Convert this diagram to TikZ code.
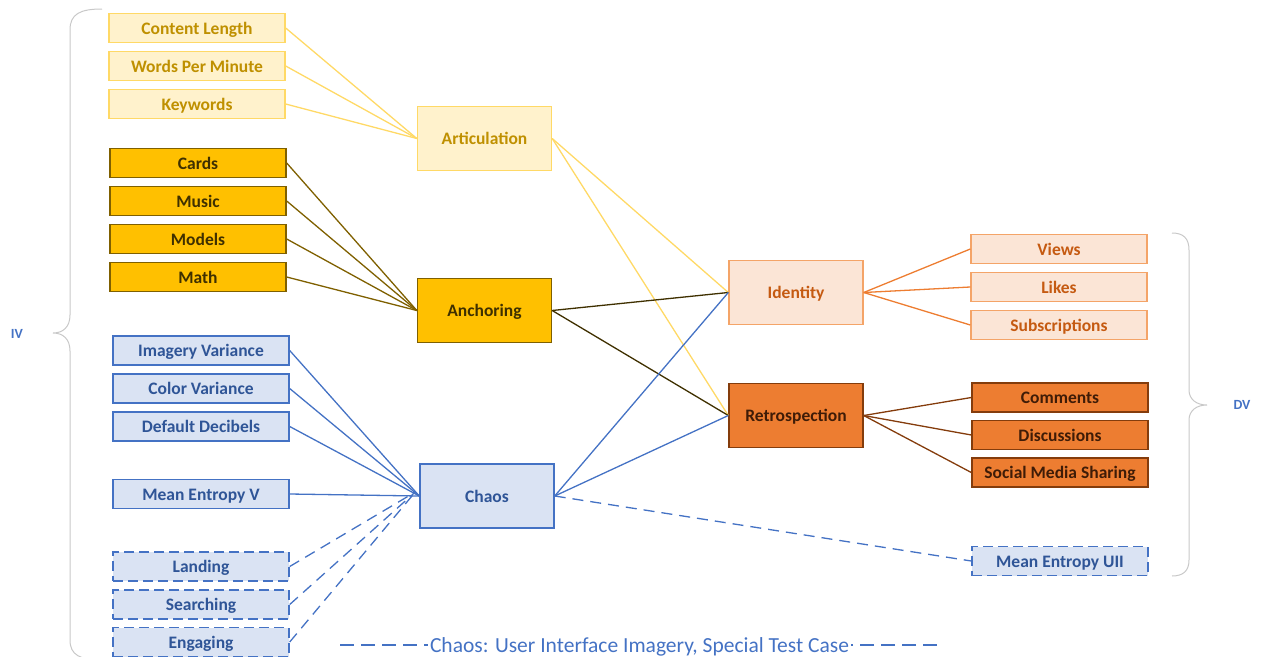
\documentclass[tikz,border=0pt]{standalone}
\usepackage{fontspec}
\setmainfont{Carlito}
\begin{document}
\definecolor{artfill}{HTML}{FFF2CC}
\definecolor{artline}{HTML}{FFD966}
\definecolor{arttext}{HTML}{BF9000}
\definecolor{ancfill}{HTML}{FFC000}
\definecolor{ancline}{HTML}{7F6000}
\definecolor{ancdark}{HTML}{3F3000}
\definecolor{chfill}{HTML}{DAE3F3}
\definecolor{chline}{HTML}{4472C4}
\definecolor{chtext}{HTML}{2F5597}
\definecolor{idfill}{HTML}{FBE5D6}
\definecolor{idline}{HTML}{F4A468}
\definecolor{idconn}{HTML}{ED7D31}
\definecolor{idtext}{HTML}{C55A11}
\definecolor{refill}{HTML}{ED7D31}
\definecolor{reline}{HTML}{843C0C}
\definecolor{retext}{HTML}{3F1C07}
\definecolor{bracegray}{HTML}{C8C8C8}
\begin{tikzpicture}[x=1pt,y=-1pt,
  box/.style={draw,line width=1.4pt,inner sep=0pt,text height=12pt,text depth=0pt,
    font=\fontsize{17.5}{19}\selectfont\bfseries},
  small/.style={box,minimum width=176pt,minimum height=29pt},
  big/.style={box,minimum width=134pt,minimum height=64pt},
  artbox/.style={fill=artfill,draw=artline,text=arttext},
  ancbox/.style={fill=ancfill,draw=ancline,text=ancdark},
  chbox/.style={fill=chfill,draw=chline,text=chtext},
  idbox/.style={fill=idfill,draw=idline,text=idtext},
  rebox/.style={fill=refill,draw=reline,text=retext},
  dashbox/.style={dash pattern=on 10pt off 5pt},
  conn/.style={line width=1.3pt},
  dconn/.style={conn,dash pattern=on 11pt off 7pt},
  legdash/.style={conn,dash pattern=on 14pt off 7pt},
  bracepath/.style={draw=bracegray,line width=1pt},
  sidelabel/.style={text=chline,font=\fontsize{14}{16}\selectfont\bfseries}
]
\useasboundingbox (0,0) rectangle (1261,656);

% braces grouping inputs and outputs
\draw[bracepath] (102,9) .. controls (80,9) and (70,14) .. (70,30) -- (70,315)
  .. controls (70,327) and (63,333) .. (53,333)
  .. controls (63,333) and (70,339) .. (70,351) -- (70,640)
  .. controls (70,655) and (80,660) .. (102,660);
\draw[bracepath] (1172,233) .. controls (1183,233) and (1189,238) .. (1189,250) -- (1189,390)
  .. controls (1189,399) and (1196,405) .. (1207,405)
  .. controls (1196,405) and (1189,411) .. (1189,420) -- (1189,560)
  .. controls (1189,571) and (1183,576) .. (1172,576);
\node[sidelabel] (iv) at (17,334) {IV};
\node[sidelabel] (dv) at (1242,405) {DV};

% articulation group
\node[small,artbox] (cl) at (197,28) {Content Length};
\node[small,artbox] (wpm) at (197,66) {Words Per Minute};
\node[small,artbox] (kw) at (197,104) {Keywords};
\node[big,artbox] (art) at (484.5,138.5) {Articulation};

% anchoring group
\node[small,ancbox] (cards) at (198,163) {Cards};
\node[small,ancbox] (music) at (198,201) {Music};
\node[small,ancbox] (models) at (198,239) {Models};
\node[small,ancbox] (math) at (198,277) {Math};
\node[big,ancbox] (anc) at (484.5,310.5) {Anchoring};

% chaos group
\node[small,chbox] (imv) at (201,350.5) {Imagery Variance};
\node[small,chbox] (colv) at (201,388.5) {Color Variance};
\node[small,chbox] (dd) at (201,426.5) {Default Decibels};
\node[small,chbox] (mev) at (201,494) {Mean Entropy V};
\node[small,chbox,dashbox] (land) at (201,566.5) {Landing};
\node[small,chbox,dashbox] (search) at (201,604.5) {Searching};
\node[small,chbox,dashbox] (eng) at (201,642) {Engaging};
\node[big,chbox] (chaos) at (487,496) {Chaos};

% outcomes
\node[big,idbox] (ident) at (796,292.5) {Identity};
\node[big,rebox] (retro) at (796,415.5) {Retrospection};
\node[small,idbox] (views) at (1059,249) {Views};
\node[small,idbox] (likes) at (1059,287) {Likes};
\node[small,idbox] (subs) at (1059,325) {Subscriptions};
\node[small,rebox] (comm) at (1060,397.5) {Comments};
\node[small,rebox] (disc) at (1060,435) {Discussions};
\node[small,rebox] (sms) at (1060,472.5) {Social Media Sharing};
\node[small,chbox,dashbox] (meu) at (1060,561) {Mean Entropy UII};

% connectors
\foreach \n in {cl,wpm,kw} \draw[conn,artline] (\n.east) -- (art.west);
\foreach \n in {ident,retro} \draw[conn,artline] (art.east) -- (\n.west);
\foreach \n in {cards,music,models,math} \draw[conn,ancline] (\n.east) -- (anc.west);
\foreach \n in {ident,retro} \draw[conn,ancdark] (anc.east) -- (\n.west);
\foreach \n in {imv,colv,dd,mev} \draw[conn,chline] (\n.east) -- (chaos.west);
\foreach \n in {land,search,eng} \draw[dconn,chline] (\n.east) -- ([xshift=-4pt,yshift=4pt]chaos.west);
\foreach \n in {ident,retro} \draw[conn,chline] (chaos.east) -- (\n.west);
\draw[dconn,chline] (chaos.east) -- (meu.west);
\foreach \n in {views,likes,subs} \draw[conn,idconn] (ident.east) -- (\n.west);
\foreach \n in {comm,disc,sms} \draw[conn,reline] (retro.east) -- (\n.west);

% legend for the dashed items
\node[text=chline,font=\fontsize{21.5}{23}\selectfont,inner sep=2pt] (legend) at (639.5,647) {Chaos: User Interface Imagery, Special Test Case};
\coordinate (lgl) at (340,645);
\coordinate (lgr) at (937,645);
\draw[legdash,chline] (lgl) -- (legend.west |- lgl);
\draw[legdash,chline] (lgr) -- (legend.east |- lgr);
\end{tikzpicture}
\end{document}
